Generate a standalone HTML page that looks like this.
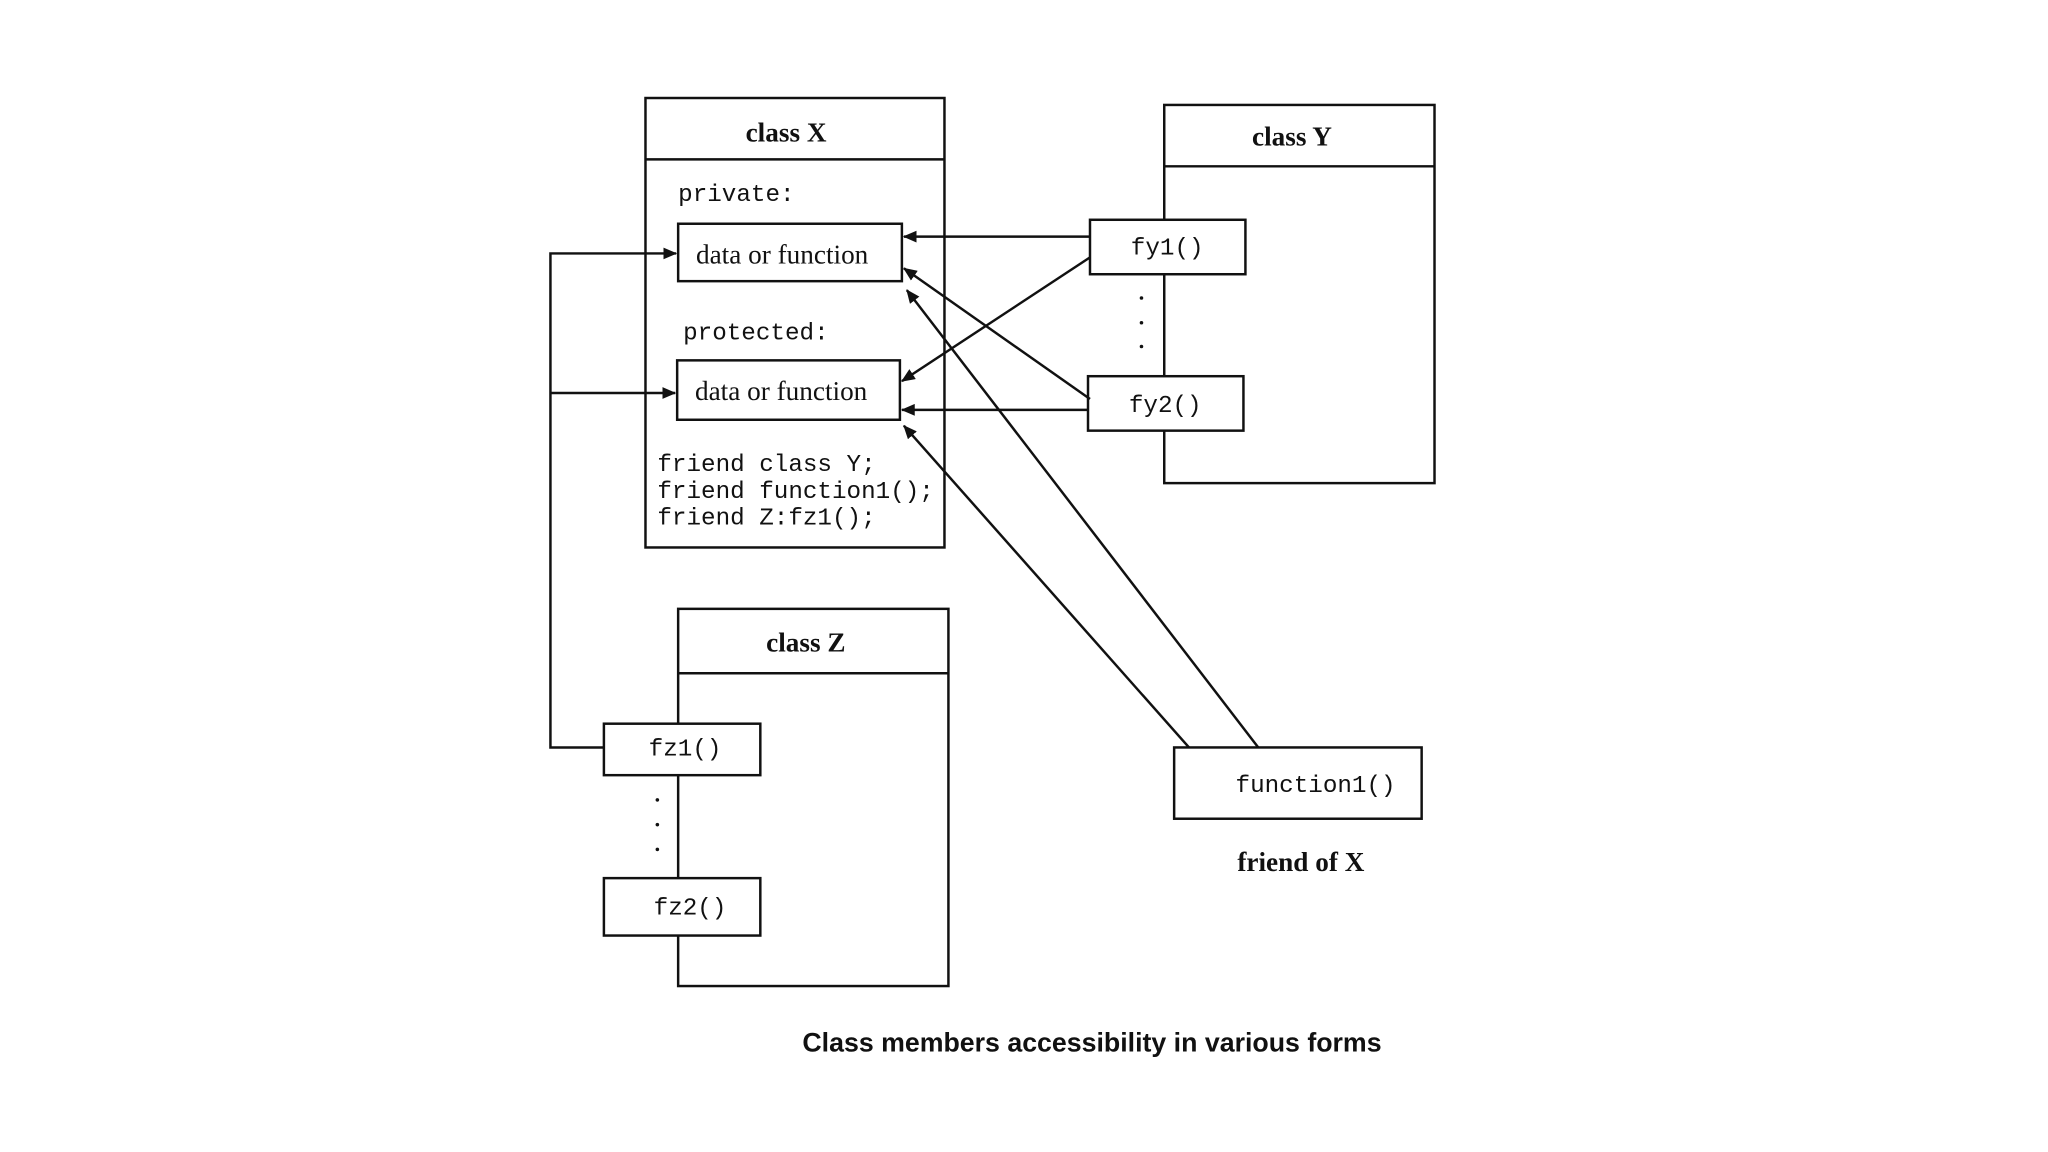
<!DOCTYPE html>
<html><head><meta charset="utf-8"><style>
body{margin:0;background:#fff}
svg{display:block}
.t{font-family:"Liberation Serif",serif;font-weight:bold;font-size:27.5px}
.s{font-family:"Liberation Serif",serif;font-size:27.5px}
.m{font-family:"Liberation Mono",monospace;font-size:24.5px}
</style></head><body>
<svg width="2048" height="1152" viewBox="0 0 2048 1152" xmlns="http://www.w3.org/2000/svg">
<defs><marker id="a" markerWidth="14" markerHeight="12" refX="13" refY="6" orient="auto" markerUnits="userSpaceOnUse"><path d="M0,0 L14,6 L0,12 z" fill="#111"/></marker></defs>
<g transform="scale(0.99)">
<g fill="none" stroke="#111" stroke-width="2.5">
<rect x="652" y="99" width="302" height="454"/><line x1="652" y1="161" x2="954" y2="161"/>
<rect x="685" y="226" width="226" height="58"/>
<rect x="684" y="364" width="225" height="60"/>
<rect x="1176" y="106" width="273" height="382"/><line x1="1176" y1="168" x2="1449" y2="168"/>
<rect x="1101" y="222" width="157" height="55" fill="#fff"/>
<rect x="1099" y="380" width="157" height="55" fill="#fff"/>
<rect x="685" y="615" width="273" height="381"/><line x1="685" y1="680" x2="958" y2="680"/>
<rect x="610" y="731" width="158" height="52" fill="#fff"/>
<rect x="610" y="887" width="158" height="58" fill="#fff"/>
<rect x="1186" y="755" width="250" height="72"/>
<polyline points="610,755 556,755 556,256 683,256" marker-end="url(#a)"/>
<line x1="556" y1="397" x2="682" y2="397" marker-end="url(#a)"/>
<line x1="1101" y1="239" x2="913" y2="239" marker-end="url(#a)"/>
<line x1="1101" y1="260" x2="911" y2="385" marker-end="url(#a)"/>
<line x1="1101" y1="403" x2="913" y2="271" marker-end="url(#a)"/>
<line x1="1099" y1="414" x2="911" y2="414" marker-end="url(#a)"/>
<line x1="1271" y1="755" x2="916" y2="293" marker-end="url(#a)"/>
<line x1="1201" y1="755" x2="913" y2="430" marker-end="url(#a)"/>
</g>
<g fill="#111">
<circle cx="1153" cy="301" r="1.8"/><circle cx="1153" cy="326" r="1.8"/><circle cx="1153" cy="350" r="1.8"/>
<circle cx="664" cy="808" r="1.8"/><circle cx="664" cy="833" r="1.8"/><circle cx="664" cy="858" r="1.8"/>
</g>
<g fill="#111">
<text class="t" x="794" y="143" text-anchor="middle">class X</text>
<text class="t" x="1305" y="147" text-anchor="middle">class Y</text>
<text class="t" x="814" y="658" text-anchor="middle">class Z</text>
<text class="t" x="1314" y="880" text-anchor="middle">friend of X</text>
<text class="m" x="685" y="203">private:</text>
<text class="m" x="690" y="343">protected:</text>
<text class="s" x="703" y="266">data or function</text>
<text class="s" x="702" y="404">data or function</text>
<text class="m" x="664" y="476">friend class Y;</text>
<text class="m" x="664" y="503">friend function1();</text>
<text class="m" x="664" y="530">friend Z:fz1();</text>
<text class="m" x="1179" y="257" text-anchor="middle">fy1()</text>
<text class="m" x="1177" y="416" text-anchor="middle">fy2()</text>
<text class="m" x="692" y="763" text-anchor="middle" font-size="18">fz1()</text>
<text class="m" x="697" y="924" text-anchor="middle">fz2()</text>
<text class="m" x="1248" y="800">function1()</text>
<text x="1103" y="1062" text-anchor="middle" font-family="Liberation Sans, sans-serif" font-weight="bold" font-size="27">Class members accessibility in various forms</text>
</g>
</g>
</svg>
</body></html>
